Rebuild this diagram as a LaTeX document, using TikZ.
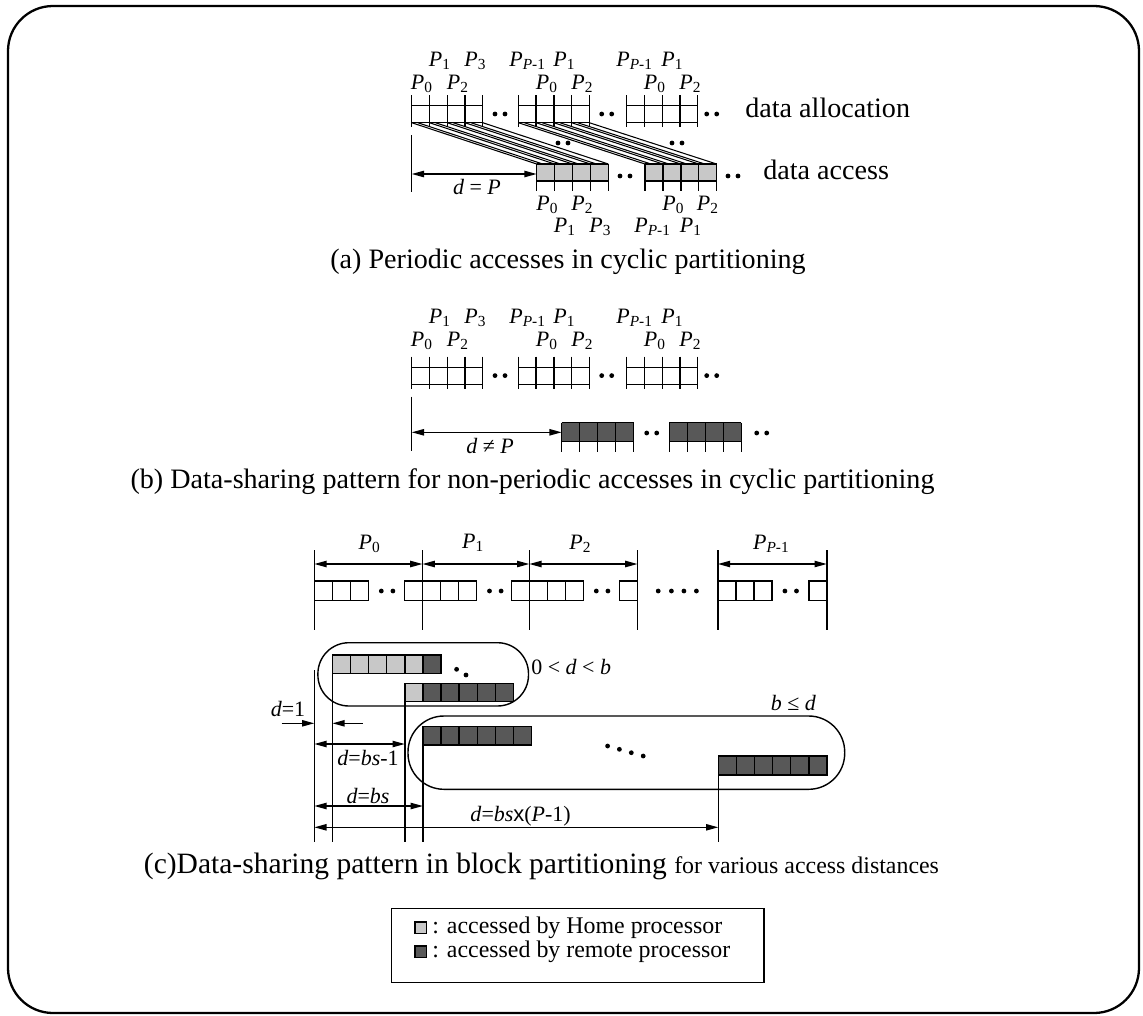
\documentclass[tikz,border=0pt]{standalone}
\usepackage{fontspec}
\setmainfont{Liberation Serif}
\setsansfont{Liberation Sans}
\usetikzlibrary{arrows.meta, positioning, calc}
\definecolor{homegray}{RGB}{200,200,200}
\definecolor{remotegray}{RGB}{88,88,88}
\newcommand{\proc}[1]{\textit{P}\textsubscript{#1}}

\begin{document}
\begin{tikzpicture}[x=0.02cm, y=-0.02cm,
    line/.style={line width=0.8pt},
    thinline/.style={line width=0.6pt},
    dim/.style={line width=0.8pt, {Triangle[length=7pt,width=3.6pt]}-{Triangle[length=7pt,width=3.6pt]}},
    tip/.style={line width=0.8pt, -{Triangle[length=7pt,width=3.6pt]}},
    plabel/.style={font=\fontsize{12.5}{15}\selectfont, inner sep=0pt, anchor=west},
    dlabel/.style={font=\fontsize{12.5}{15}\selectfont, inner sep=0pt},
    caption/.style={font=\fontsize{16}{19}\selectfont, inner sep=0pt},
    side/.style={font=\fontsize{16}{19}\selectfont, inner sep=0pt, anchor=west},
    legtext/.style={font=\fontsize{13.6}{16}\selectfont, inner sep=0pt, anchor=west},
    home/.style={line width=0.8pt, fill=homegray},
    remote/.style={line width=0.8pt, fill=remotegray},
  ]
  \useasboundingbox (0,0) rectangle (1143,1015);

  % Outer frame
  \draw[line width=1.3pt, rounded corners=0.9cm] (8,6) rectangle (1139,1013);

  % (a) and (b): data allocation rows
  \foreach \yo/\ly in {0/0, 261.6/257}{
    \foreach \xa in {411.7,518.3,626.7}{
      \draw[line] (\xa,105.7+\yo) -- ++(71,0) (\xa,122.7+\yo) -- ++(71,0);
      \foreach \i in {0,...,4}
        \draw[line] (\xa+\i*17.75,95+\yo) -- ++(0,32);
    }
    \fill (495,114+\yo) circle (2.4) (505,114+\yo) circle (2.4)
          (601.7,114+\yo) circle (2.4) (611.7,114+\yo) circle (2.4)
          (706.7,114+\yo) circle (2.4) (716.7,114+\yo) circle (2.4);
    \foreach \px/\py/\pt [count=\k] in {410.5/84/0, 428.5/61/1, 446.5/84/2, 464/61/3,
        509/61/{\textit{P}-1}, 535.5/84/0, 553/61/1, 571/84/2,
        616/61/{\textit{P}-1}, 643.5/84/0, 661/61/1, 679/84/2}
      \node[plabel] (alloc\k-\ly) at (\px,\py+\ly) {\proc{\pt}};
  }
  \node[side] (alloctxt) at (745,108) {data allocation};

  % (a) data access rows
  \foreach \xb in {536.7,645}{
    \fill[homegray] (\xb,164) rectangle ++(71.6,17);
    \draw[line] (\xb,164) -- ++(71.6,0) (\xb,181) -- ++(71.6,0);
    \foreach \i in {0,...,4}
      \draw[line] (\xb+\i*17.9,164) -- ++(0,27);
  }
  \foreach \xa/\xb in {411.7/536.7, 518.3/645}{
    \foreach \i in {0,...,4}
      \draw[thinline] (\xa+\i*17.75,122.7) -- (\xb+\i*17.9,164);
    \foreach \i in {0,...,3}
      \draw[thinline] (\xa+\i*17.75+6,122.7) -- (\xb+\i*17.9+6,164);
  }
  \fill (558,143) circle (2.4) (568,143) circle (2.4)
        (672,143) circle (2.4) (682,143) circle (2.4)
        (620,176) circle (2.4) (630,176) circle (2.4)
        (728,176) circle (2.4) (738,176) circle (2.4);
  \foreach \px/\py/\pt [count=\k] in {536/205/0, 553.5/227/1, 571/205/2, 589/227/3,
      634/227/{\textit{P}-1}, 662/205/0, 679.5/227/1, 696.5/205/2}
    \node[plabel] (access\k) at (\px,\py) {\proc{\pt}};
  \node[side] (accesstxt) at (763,170) {data access};

  \coordinate (aref) at (411.7,174);
  \coordinate (aend) at (536.7,174);
  \draw[line] (411.7,135) -- (411.7,191.7);
  \draw[dim] (aref) -- (aend);
  \node[dlabel] (dP) at (477,187) {\textit{d} = \textit{P}};
  \node[caption] (capa) at (568,262) {(a) Periodic accesses in cyclic partitioning};

  % (b) non-periodic access rows
  \foreach \xb in {561.7,669.3}{
    \fill[remotegray] (\xb,422.7) rectangle ++(72,19);
    \draw[line] (\xb,422.7) -- ++(72,0) (\xb,441.7) -- ++(72,0);
    \foreach \i in {0,...,4}
      \draw[line] (\xb+\i*18,422.7) -- ++(0,29);
  }
  \fill (646.7,433) circle (2.4) (656.7,433) circle (2.4)
        (756.7,433) circle (2.4) (766.7,433) circle (2.4);
  \coordinate (bref) at (411.7,432.3);
  \coordinate (bend) at (561.7,432.3);
  \draw[line] (411.7,396.7) -- (411.7,451);
  \draw[dim] (bref) -- (bend);
  \node[dlabel] (dnP) at (490,446) {\textit{d} ≠ \textit{P}};
  \node[caption] (capb) at (532.5,482) {(b) Data-sharing pattern for non-periodic accesses in cyclic partitioning};

  % (c) block partitioning
  \foreach \xs [count=\k] in {314.3,422.5,529.3,637.5,717.9,826.8}{
    \coordinate (bar\k) at (\xs,564);
    \draw[line] (\xs,550) -- (\xs,630);
  }
  \draw[dim] (bar1) -- (bar2);
  \draw[dim] (bar2) -- (bar3);
  \draw[dim] (bar3) -- (bar4);
  \draw[dim] (bar5) -- (bar6);
  \node[dlabel] (blk0) at (369.6,544) {\proc{0}};
  \node[dlabel] (blk1) at (473.2,543) {\proc{1}};
  \node[dlabel] (blk2) at (580.4,544) {\proc{2}};
  \node[dlabel] (blkP) at (771.4,544) {\proc{\textit{P}-1}};
  \foreach \xs/\xe in {314.3/422.5, 422.5/529.3, 529.3/637.5, 717.9/826.8}{
    \foreach \i in {0,1,2}
      \draw[line] (\xs+\i*18,581) rectangle ++(18,19.5);
    \draw[line] (\xe-18,581) rectangle (\xe,600.5);
    \fill (\xs+67,591) circle (2.4) (\xs+78.6,591) circle (2.4);
  }
  \fill (658.2,591) circle (2.4) (671.4,591) circle (2.4)
        (683.9,591) circle (2.4) (696.4,591) circle (2.4);

  % shifted copies
  \draw[line, rounded corners=0.62cm] (317.9,642.7) rectangle (528.5,706);
  \draw[line, rounded corners=0.72cm] (408,716) rectangle (844.7,789.3);
  \foreach \i in {0,...,4}
    \filldraw[home] (332.4+\i*18.1,655) rectangle ++(18.1,18.3);
  \filldraw[remote] (422.9,655) rectangle ++(18.1,18.3);
  \filldraw[home] (404.8,683.3) rectangle ++(18.1,18.4);
  \foreach \i in {0,...,4}
    \filldraw[remote] (422.9+\i*18.1,683.3) rectangle ++(18.1,18.4);
  \foreach \i in {0,...,5}{
    \filldraw[remote] (422.9+\i*18.1,726.7) rectangle ++(18.1,18.3);
    \filldraw[remote] (718.3+\i*18.1,756) rectangle ++(18.1,19);
  }
  \fill (456.6,669.3) circle (2.4) (466,675) circle (2.4);
  \fill (607.6,746) circle (2.4) (619.4,749.3) circle (2.4)
        (631.3,752.7) circle (2.4) (643.2,756) circle (2.4);
  \node[dlabel, anchor=west] (small) at (531,666.7) {0 < \textit{d} < \textit{b}};
  \node[dlabel] (large) at (793.4,703) {\textit{b} ≤ \textit{d}};

  % access distances
  \draw[line] (314.3,670) -- (314.3,841.7);
  \draw[line] (332.4,673.3) -- (332.4,841.7);
  \draw[line] (404.8,701.7) -- (404.8,841.7);
  \draw[line] (422.9,745) -- (422.9,841.7);
  \draw[line] (718.3,775) -- (718.3,841.7);
  \coordinate (one0) at (281.5,723.3);
  \coordinate (one1) at (314.3,723.3);
  \coordinate (one2) at (332.4,723.3);
  \coordinate (one3) at (362.5,723.3);
  \draw[tip] (one0) -- (one1);
  \draw[tip] (one3) -- (one2);
  \node[dlabel] (d1) at (288,709.3) {\textit{d}=1};
  \draw[dim] (314.3,744) coordinate (m0) -- (404.8,744) coordinate (m1);
  \node[dlabel] (dm) at (368,757.5) {\textit{d}=\textit{bs}-1};
  \draw[dim] (314.3,806) coordinate (s0) -- (422.9,806) coordinate (s1);
  \node[dlabel] (ds) at (368,795.5) {\textit{d}=\textit{bs}};
  \draw[dim] (314.3,827.3) coordinate (f0) -- (718.3,827.3) coordinate (f1);
  \node[dlabel] (df) at (520.6,816) {\textit{d}=\textit{bs}\textsf{x}(\textit{P}-1)};
  \node[caption] (capc) at (541.5,866) {\fontsize{16.8}{19}\selectfont(c)Data-sharing pattern in block partitioning {\fontsize{13.6}{16}\selectfont for various access distances}};

  % Legend
  \draw[line] (391.7,908.3) rectangle (764,982.3);
  \filldraw[home] (415,922) rectangle (426.7,933.5);
  \filldraw[remote] (415,946) rectangle (426.7,957.5);
  \node[legtext] (homeleg) at (432,928) {: accessed by Home processor};
  \node[legtext] (remoteleg) at (432,952) {: accessed by remote processor};
\end{tikzpicture}
\end{document}
